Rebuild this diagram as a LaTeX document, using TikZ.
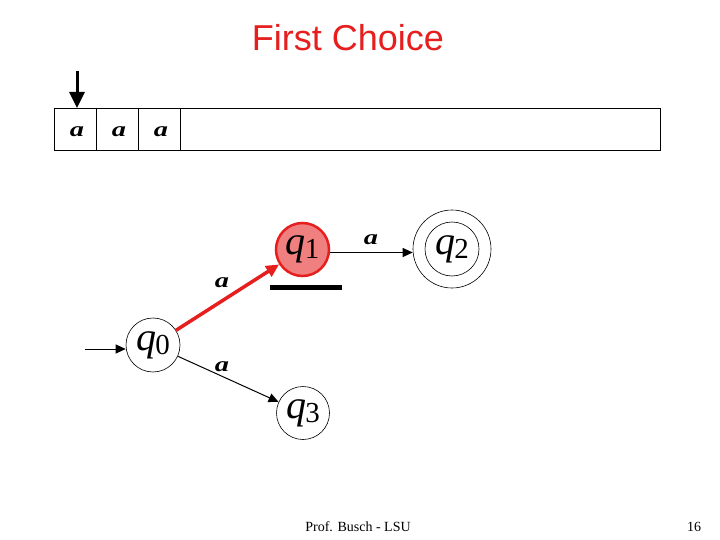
\documentclass[tikz,border=0pt]{standalone}
\usepackage{fontspec}
\setmainfont{Liberation Serif}
\newfontfamily\titlefont{Liberation Sans}
\usetikzlibrary{arrows.meta}
\definecolor{qred}{RGB}{230,30,30}
\definecolor{qfill}{RGB}{240,128,128}
\newcommand{\stlab}[1]{{\fontsize{40}{40}\selectfont\itshape q}\kern-1pt\raisebox{-4pt}{\fontsize{29}{29}\selectfont #1}}
\newcommand{\syma}{\scalebox{1.35}[1]{\fontsize{21}{21}\selectfont\bfseries\itshape a}}
\begin{document}
\begin{tikzpicture}[x=1pt,y=-1pt,
  state/.style={circle,draw=black,line width=0.6pt,minimum size=54pt,inner sep=0pt},
  edge/.style={-{Triangle[length=10pt,width=9pt]},line width=1pt},
  lab/.style={inner sep=0pt}]
\useasboundingbox (0,0) rectangle (720,540);
% title
\node[lab,text=qred] (title) at (348,38) {\titlefont\fontsize{36}{36}\selectfont First Choice};
% tape
\draw[line width=0.6pt] (54,108) rectangle (660,150);
\draw[line width=0.6pt] (96,108) -- (96,150) (138,108) -- (138,150) (180,108) -- (180,150);
\node[lab] (c1) at (77,132) {\syma};
\node[lab] (c2) at (119,132) {\syma};
\node[lab] (c3) at (161,132) {\syma};
\coordinate (headtop) at (77,71);
\coordinate (headbot) at (77,108);
\draw[line width=3pt,-{Triangle[length=16pt,width=15pt]}] (headtop) -- (headbot);
% states
\node[state] (q0) at (153,345) {\stlab{0}};
\node[state,draw=qred,fill=qfill,line width=2.5pt,minimum size=53pt] (q1) at (302.5,249.5) {\stlab{1}};
\node[state] (q2) at (452,249) {\stlab{2}};
\node[circle,draw=black,line width=0.6pt,minimum size=78pt,inner sep=0pt] (q2o) at (452,249) {};
\node[state,minimum size=53pt] (q3) at (303,413) {\stlab{3}};
% start
\coordinate (start) at (85,349);
\draw[edge] (start) -- (q0.west |- start);
% edges
\draw[-{Triangle[length=13pt,width=12pt]},line width=3.5pt,draw=qred,fill=qred] (q0) -- (q1);
\path (q1.east) ++(0,3) coordinate (q1e);
\draw[edge] (q1e) -- (q2o.west |- q1e);
\draw[edge] (q0) -- (q3);
% labels
\node[lab] (l01) at (222,283) {\syma};
\node[lab] (l12) at (371,240) {\syma};
\node[lab] (l03) at (222,367) {\syma};
% bar
\coordinate (barl) at (270,287.5);
\coordinate (barr) at (342,287.5);
\draw[line width=4.5pt] (barl) -- (barr);
% footer
\node[lab] (foot) at (358,527) {\fontsize{14}{14}\selectfont Prof. Busch - LSU};
\node[lab] (page) at (694,527) {\fontsize{14}{14}\selectfont 16};
\end{tikzpicture}
\end{document}
